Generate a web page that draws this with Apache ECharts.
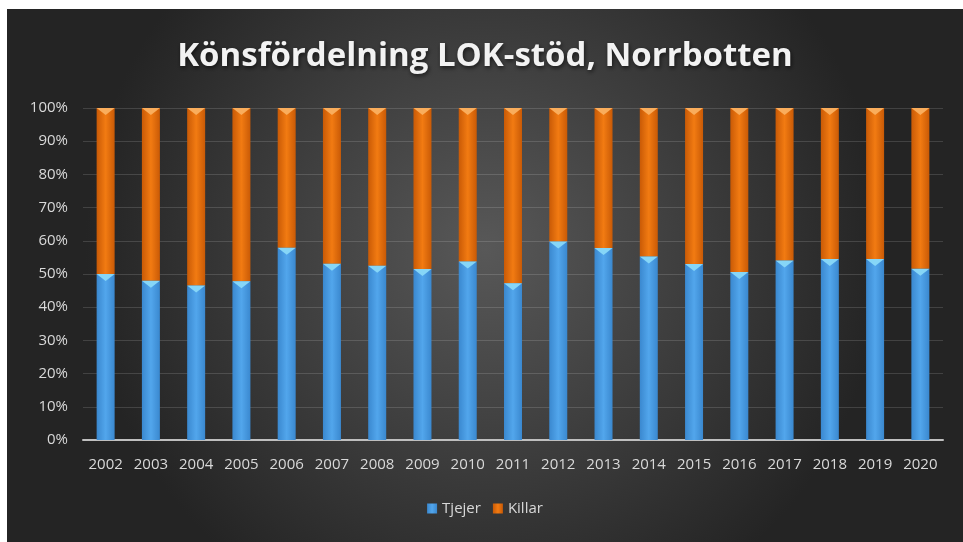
<!DOCTYPE html>
<html>
<head>
<meta charset="utf-8">
<script src="https://cdn.jsdelivr.net/npm/echarts@6/dist/echarts.min.js"></script>
<style>
  html, body { margin: 0; padding: 0; background: #ffffff; }
  #chart { position: absolute; left: 7px; top: 9px; width: 956px; height: 533px; }
</style>
</head>
<body>
<div id="chart"></div>
<script>
// data
var years = ['2002', '2003', '2004', '2005', '2006', '2007', '2008', '2009', '2010', '2011',
    '2012', '2013', '2014', '2015', '2016', '2017', '2018', '2019', '2020']
var tjejer = [50.0, 48.0, 46.5, 47.8, 57.9, 53.1, 52.5, 51.5, 53.8, 47.2,
    59.8, 57.8, 55.3, 53.0, 50.6, 54.1, 54.5, 54.5, 51.6]
var killar = [50.0, 52.0, 53.5, 52.2, 42.1, 46.9, 47.5, 48.5, 46.2, 52.8,
    40.2, 42.2, 44.7, 47.0, 49.4, 45.9, 45.5, 45.5, 48.4]
var yTicks = [0, 10, 20, 30, 40, 50, 60, 70, 80, 90, 100]

var textColor = '#d9d9d9'
var barW = 18

function barGrad(c1, c2) {
    return new echarts.graphic.LinearGradient(0, 0, 1, 0, [
        { offset: 0, color: c1 },
        { offset: 0.5, color: c2 },
        { offset: 1, color: c1 }
    ])
}
var blue = barGrad('#3a88cf', '#52a6ec')
var orange = barGrad('#c95a06', '#f27b12')

// cone tops (triangle pointing down)
var cone = 'path://M0,0 L10,0 L5,4 Z'

var chart = echarts.init(document.getElementById('chart'))
chart.setOption({
    backgroundColor: new echarts.graphic.RadialGradient(0.5, 0.45, 0.75, [
        { offset: 0, color: '#585858' },
        { offset: 1, color: '#242424' }
    ]),
    title: {
        text: 'Könsfördelning LOK-stöd, Norrbotten',
        left: 'center',
        top: 26,
        textStyle: {
            color: '#f2f2f2',
            fontFamily: 'Open Sans',
            fontWeight: 'bold',
            fontSize: 33,
            textShadowColor: 'rgba(0,0,0,0.6)',
            textShadowBlur: 4,
            textShadowOffsetX: 1,
            textShadowOffsetY: 2
        }
    },
    legend: {
        data: ['Tjejer', 'Killar'],
        bottom: 21,
        left: 'center',
        itemWidth: 10,
        itemHeight: 10,
        itemGap: 12,
        icon: 'rect',
        textStyle: { color: textColor, fontSize: 15, fontFamily: 'Open Sans' }
    },
    grid: { left: 76, right: 20, top: 99, bottom: 102 },
    xAxis: {
        type: 'category',
        data: years,
        axisLine: { lineStyle: { color: '#bfbfbf', width: 2 } },
        axisTick: { show: false },
        axisLabel: { color: textColor, fontSize: 15, margin: 17, fontFamily: 'Open Sans' }
    },
    yAxis: {
        type: 'value',
        min: 0,
        max: 100,
        interval: 10,
        axisLine: { show: false },
        axisTick: { show: false },
        splitLine: { lineStyle: { color: 'rgba(255,255,255,0.14)', width: 1 } },
        axisLabel: {
            color: textColor, fontSize: 15, margin: 15, fontFamily: 'Open Sans',
            formatter: function (v) { return yTicks.indexOf(v) >= 0 ? v + '%' : '' }
        }
    },
    series: [
        {
            name: 'Tjejer',
            type: 'bar',
            stack: 'total',
            barWidth: barW,
            color: '#4a9de0',
            itemStyle: { color: blue },
            data: tjejer
        },
        {
            name: 'Killar',
            type: 'bar',
            stack: 'total',
            barWidth: barW,
            color: '#e8700c',
            itemStyle: { color: orange },
            data: killar
        },
        {
            name: 'tjejerTop',
            type: 'scatter',
            symbol: cone,
            symbolSize: [barW, 7],
            symbolOffset: [0, 3.5],
            itemStyle: { color: '#86d6f7', opacity: 1 },
            z: 5,
            silent: true,
            data: tjejer.map(function (v, i) { return [i, v] })
        },
        {
            name: 'killarTop',
            type: 'scatter',
            symbol: cone,
            symbolSize: [barW, 7],
            symbolOffset: [0, 3.5],
            itemStyle: { color: '#f9ad5c', opacity: 1 },
            z: 5,
            silent: true,
            data: killar.map(function (v, i) { return [i, v + tjejer[i]] })
        }
    ]
})
</script>
</body>
</html>
